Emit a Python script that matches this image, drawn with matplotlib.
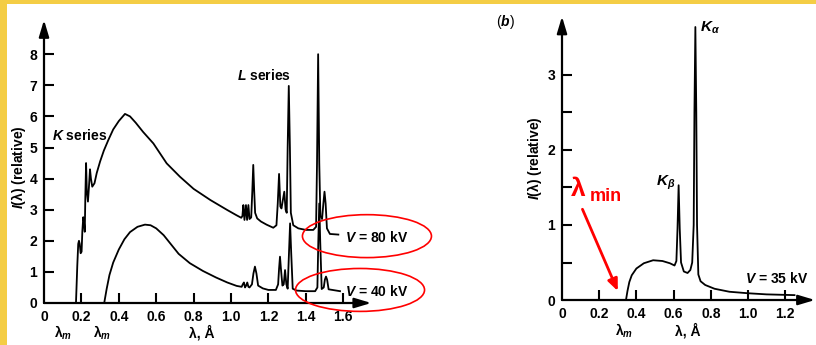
import numpy as np
import matplotlib
matplotlib.use('Agg')
import matplotlib.pyplot as plt
from matplotlib.patches import Ellipse, Rectangle

plt.rcParams['font.family'] = ['Liberation Sans', 'DejaVu Sans']
plt.rcParams['mathtext.fontset'] = 'custom'
plt.rcParams['mathtext.rm'] = 'Liberation Sans'
plt.rcParams['mathtext.it'] = 'Liberation Sans:italic:bold'
plt.rcParams['mathtext.bf'] = 'Liberation Sans:bold'

# (a) tungsten spectrum, V = 80 kV
lam80 = [0.171, 0.178, 0.183, 0.187, 0.191, 0.196, 0.201,
         0.205, 0.210, 0.214, 0.218,
         0.221, 0.225, 0.229, 0.235,
         0.240, 0.246, 0.251, 0.258,
         0.270, 0.282, 0.300, 0.320, 0.344, 0.370, 0.400, 0.433, 0.460, 0.490,
         0.530, 0.585, 0.656, 0.727, 0.800, 0.890, 0.980, 1.030, 1.055,
         1.061, 1.066, 1.072, 1.080, 1.086, 1.093, 1.099,
         1.108, 1.114, 1.119, 1.124, 1.129, 1.140, 1.160, 1.190, 1.226, 1.243,
         1.250, 1.257, 1.264, 1.270, 1.277, 1.285, 1.292, 1.298,
         1.303, 1.309, 1.315, 1.320, 1.333, 1.360, 1.400, 1.440, 1.455,
         1.460, 1.466, 1.472, 1.478, 1.487, 1.494, 1.500, 1.506, 1.513, 1.529, 1.574]
i80 = [0.0, 1.2, 1.9, 2.0, 1.9, 1.6, 1.65,
       2.3, 2.76, 2.6, 2.29,
       3.4, 4.5, 3.6, 3.26,
       3.7, 4.3, 4.0, 3.74,
       3.85, 4.18, 4.55, 4.9, 5.24, 5.58, 5.85, 6.08, 6.0, 5.8,
       5.5, 5.13, 4.49, 4.06, 3.67, 3.31, 2.99, 2.82, 2.74,
       2.8, 3.15, 2.67, 3.15, 2.67, 3.15, 2.7,
       2.75, 3.6, 4.44, 3.6, 2.9, 2.72, 2.62, 2.52, 2.42, 2.5,
       3.2, 4.15, 3.1, 3.04, 3.3, 3.58, 3.0, 2.9,
       5.0, 6.98, 5.0, 2.9, 2.5, 2.4, 2.35, 2.35, 2.45,
       4.5, 8.0, 4.5, 2.8, 2.7, 3.2, 3.58, 3.2, 2.4, 2.22, 2.2]

# (a) V = 40 kV
lam40 = [0.322, 0.335, 0.35, 0.37, 0.40, 0.43, 0.46, 0.50, 0.54, 0.57,
         0.60, 0.64, 0.68, 0.72, 0.78, 0.85, 0.92, 0.98, 1.03, 1.057,
         1.063, 1.069, 1.075, 1.081, 1.087, 1.093, 1.099, 1.112, 1.120, 1.128,
         1.136, 1.145, 1.17, 1.20, 1.24, 1.252, 1.257, 1.262, 1.267, 1.275,
         1.282, 1.289, 1.296, 1.303, 1.310, 1.316, 1.322, 1.330, 1.35, 1.40,
         1.45, 1.462, 1.467, 1.472, 1.477, 1.485, 1.496, 1.502, 1.508, 1.514,
         1.522, 1.583]
i40 = [0.0, 0.45, 0.9, 1.3, 1.72, 2.05, 2.28, 2.45, 2.52, 2.5,
       2.4, 2.18, 1.88, 1.58, 1.28, 1.03, 0.82, 0.66, 0.55, 0.52,
       0.6, 0.66, 0.5, 0.56, 0.66, 0.52, 0.5, 0.6, 0.95, 1.17,
       0.95, 0.56, 0.47, 0.42, 0.42, 0.6, 1.1, 1.49, 1.1, 0.56,
       0.6, 1.06, 0.6, 0.46, 1.6, 2.56, 1.6, 0.46, 0.4, 0.38,
       0.38, 0.5, 2.0, 3.2, 2.0, 0.45, 0.5, 0.75, 0.85, 0.75,
       0.44, 0.38]

# (b) molybdenum, V = 35 kV
lam35 = [0.344, 0.352, 0.362, 0.375, 0.40, 0.44, 0.49, 0.54, 0.58, 0.605,
         0.615, 0.621, 0.627, 0.633, 0.64, 0.655, 0.675, 0.69, 0.700, 0.708,
         0.712, 0.717, 0.722, 0.726, 0.733, 0.745, 0.77, 0.82, 0.90, 1.00,
         1.10, 1.25]
i35 = [0.0, 0.12, 0.24, 0.33, 0.42, 0.49, 0.53, 0.52, 0.49, 0.46,
       0.52, 0.95, 1.53, 0.95, 0.5, 0.38, 0.36, 0.4, 0.5, 1.0,
       2.5, 3.64, 2.5, 1.0, 0.34, 0.25, 0.2, 0.15, 0.11, 0.09,
       0.075, 0.065]

xticks_a = [0, 0.2, 0.4, 0.6, 0.8, 1.0, 1.2, 1.4, 1.6]
xlabels_a = ['0', '0.2', '0.4', '0.6', '0.8', '1.0', '1.2', '1.4', '1.6']
yticks_a = [0, 1, 2, 3, 4, 5, 6, 7, 8]
xticks_b = [0, 0.2, 0.4, 0.6, 0.8, 1.0, 1.2]
xlabels_b = ['0', '0.2', '0.4', '0.6', '0.8', '1.0', '1.2']
yticks_b = [0, 1, 2, 3]
yminor_b = [0.5, 1.5, 2.5]

W, H = 816, 345
fig = plt.figure(figsize=(W / 100, H / 100), dpi=100)
fig.patch.set_facecolor('#F4CD45')
fig.patches.append(Rectangle((7 / W, 0), 1, 1 - 4 / H, transform=fig.transFigure,
                             facecolor='white', edgecolor='none', zorder=-10))

def px_axes(x0, y0, xmax, ymax, sx, sy):
    # x0, y0: pixel of the origin; sx, sy: pixels per data unit
    left = x0 / W
    bottom = (H - y0) / H
    width = xmax * sx / W
    height = ymax * sy / H
    return fig.add_axes([left, bottom, width, height])

def style(ax, xmax, ymax, sx, sy, xt, yt):
    ax.set_xlim(0, xmax)
    ax.set_ylim(0, ymax)
    ax.patch.set_alpha(0)
    for s in ax.spines.values():
        s.set_visible(False)
    arrow = dict(arrowstyle='-|>,head_length=1.0,head_width=0.3', lw=1.6,
                 color='k', shrinkA=0, shrinkB=0)
    ax.annotate('', xy=(xmax, 0), xytext=(0, 0), arrowprops=arrow,
                annotation_clip=False)
    ax.annotate('', xy=(0, ymax), xytext=(0, 0), arrowprops=arrow,
                annotation_clip=False)
    ax.tick_params(which='both', length=0, labelsize=10)
    ax.tick_params(axis='y', pad=5)
    ax.tick_params(axis='x', pad=5)
    for lbl in ax.get_xticklabels() + ax.get_yticklabels():
        lbl.set_fontweight('bold')
    # inward tick marks, 10 px long, drawn in data units
    for t in xt:
        if t > 0:
            ax.plot([t, t], [0, 10 / sy], color='black', lw=1.5,
                    solid_capstyle='butt', zorder=4)
    for t in yt:
        if t > 0:
            ax.plot([0, 10 / sx], [t, t], color='black', lw=1.5,
                    solid_capstyle='butt', zorder=4)

# ---- panel (a)
ax1 = px_axes(44, 303, 1.75, 9.1, 187, 31.1)
ax1.set_xticks(xticks_a)
ax1.set_xticklabels(xlabels_a)
ax1.set_yticks(yticks_a)
style(ax1, 1.75, 9.1, 187, 31.1, xticks_a, yticks_a)
ax1.plot(lam80, i80, color='black', lw=1.3)
ax1.plot(lam40, i40, color='black', lw=1.3)

ax1.text(0.043, 5.4, r'$K$ series', fontsize=10, fontweight='bold', va='center')
ax1.text(1.03, 7.3, r'$L$ series', fontsize=10, fontweight='bold', va='center')
ax1.text(1.61, 2.12, r'$V$ = 80 kV', fontsize=10, fontweight='bold', va='center',
         clip_on=False)
ax1.text(1.61, 0.36, r'$V$ = 40 kV', fontsize=10, fontweight='bold', va='center',
         clip_on=False)
for cx, cy in [(1.727, 2.15), (1.69, 0.42)]:
    ax1.add_patch(Ellipse((cx, cy), 0.69, 1.38, fill=False, edgecolor='red',
                          lw=1.2, clip_on=False, zorder=5))

fig.text(18 / W, 1 - 167 / H, r'$I$(λ) (relative)', rotation=90, fontsize=10,
         fontweight='bold', ha='center', va='center')
fig.text(63 / W, 1 - 333 / H, r'λ$_m$', fontsize=10, fontweight='bold',
         ha='center', va='center')
fig.text(102 / W, 1 - 333 / H, r'λ$_m$', fontsize=10, fontweight='bold',
         ha='center', va='center')
fig.text(202 / W, 1 - 333 / H, 'λ, Å', fontsize=10, fontweight='bold',
         ha='center', va='center')

# ---- panel (b)
ax2 = px_axes(562, 300, 1.36, 3.78, 186, 75)
ax2.set_xticks(xticks_b)
ax2.set_xticklabels(xlabels_b)
ax2.set_yticks(yticks_b)
style(ax2, 1.36, 3.78, 186, 75, xticks_b, yticks_b + yminor_b)
ax2.plot(lam35, i35, color='black', lw=1.3)

ax2.text(0.742, 3.63, r'$K_{\alpha}$', fontsize=11, va='center')
ax2.text(0.61, 1.56, r'$K_{\beta}$', fontsize=11, va='center', ha='right')
ax2.text(0.984, 0.29, r'$V$ = 35 kV', fontsize=10, fontweight='bold',
         va='center', clip_on=False)
ax2.text(0.050, 1.39, 'λ', fontsize=19, color='red', fontweight='bold',
         va='baseline')
ax2.text(0.150, 1.32, 'min', fontsize=13, color='red', fontweight='bold',
         va='baseline')
ax2.annotate('', xy=(0.30, 0.12), xytext=(0.11, 1.21),
             arrowprops=dict(arrowstyle='-|>,head_length=0.7,head_width=0.3',
                             color='red', lw=2, shrinkA=0, shrinkB=0))

fig.text(534 / W, 1 - 158 / H, r'$I$(λ) (relative)', rotation=90, fontsize=10,
         fontweight='bold', ha='center', va='center')
fig.text(505 / W, 1 - 22 / H, r'($b$)', fontsize=10, ha='center', va='center')
fig.text(624 / W, 1 - 331 / H, r'λ$_m$', fontsize=10, fontweight='bold',
         ha='center', va='center')
fig.text(688 / W, 1 - 331 / H, 'λ, Å', fontsize=10, fontweight='bold',
         ha='center', va='center')

fig.savefig('out.png', dpi=100)
